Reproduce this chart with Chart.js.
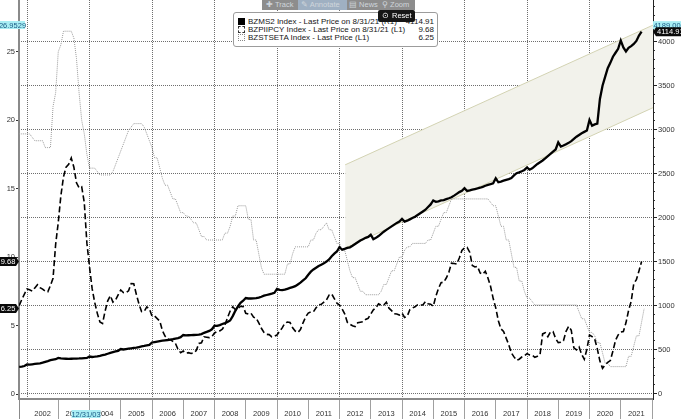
<!DOCTYPE html>
<html>
<head>
<meta charset="utf-8">
<script src="https://cdn.jsdelivr.net/npm/chart.js@4/dist/chart.umd.min.js"></script>
<style>
  html, body { margin: 0; padding: 0; background: #ffffff; }
  #wrap { position: relative; width: 681px; height: 419px; overflow: hidden; background: #fff; }
  #c { position: absolute; left: 0; top: 0; }
  .toolbar { position: absolute; left: 262px; top: 0; width: 153px; height: 10px; background: #8d8d8d;
             font: 7.5px 'Liberation Sans', Arial, sans-serif; color: #cfd6dc; line-height: 10px; white-space: nowrap; }
  .toolbar span { position: absolute; top: 0; height: 10px; }
  .toolbar .ann { background: #9fb0c2; }
  .reset { position: absolute; left: 378px; top: 10px; width: 37px; height: 12px; background: #161616; border-radius: 2px;
           font: 7.5px 'Liberation Sans', Arial, sans-serif; color: #fff; line-height: 12px; white-space: nowrap; }
  .legend { position: absolute; left: 233px; top: 12px; width: 203px; height: 33px; background: #fff;
            border: 1px solid #9c9c9c; border-radius: 3px; font: 8px 'Liberation Sans', Arial, sans-serif; color: #151515; }
  .row { position: absolute; left: 4px; right: 3px; height: 9px; line-height: 9px; white-space: nowrap; }
  .row .ic { position: absolute; left: 0; top: 1px; width: 7px; height: 7px; box-sizing: border-box; }
  .row .tx { position: absolute; left: 10px; top: 0; }
  .row .val { position: absolute; right: 0; top: 0; }
</style>
</head>
<body>
<div id="wrap">
  <canvas id="c" width="681" height="419"></canvas>
  <div class="toolbar">
    <span style="left:4px">✚ Track</span>
    <span class="ann" style="left:36px;width:46px;padding-left:3px">✎ Annotate</span>
    <span style="left:87px">▤ News</span>
    <span style="left:120px">⚲ Zoom</span>
  </div>
  <div class="legend">
    <div class="row" style="top:4px"><span class="ic" style="background:#000"></span><span class="tx" id="lg0"></span><span class="val" id="lv0"></span></div>
    <div class="row" style="top:12px"><span class="ic" style="border:1px dashed #333"></span><span class="tx" id="lg1"></span><span class="val" id="lv1"></span></div>
    <div class="row" style="top:20px"><span class="ic" style="border:1px dotted #888"></span><span class="tx" id="lg2"></span><span class="val" id="lv2"></span></div>
  </div>
  <div class="reset"><span style="position:absolute;left:4px">⊙</span><span style="position:absolute;left:14px">Reset</span></div>
</div>
<script>
// ---------------- data (monthly, first point = end of Sep 2001) ----------------
const startYear = 2001;
const startMonth = 9;

// BZMS2 Index (right axis) - Brazil M2, monthly Sep 2001 .. Aug 2021
const m2Values = [
  303, 306, 312, 330,
  328, 332, 336, 340, 343, 350, 360, 368, 378, 385, 390, 405,
  398, 396, 395, 394, 395, 396, 397, 398, 400, 402, 404, 420,
  415, 418, 422, 428, 435, 442, 452, 462, 470, 478, 485, 505,
  500, 505, 510, 514, 518, 521, 528, 535, 540, 546, 552, 580,
  585, 590, 595, 600, 605, 608, 612, 618, 625, 630, 640, 665,
  660, 662, 664, 665, 666, 668, 675, 690, 700, 712, 730, 770,
  768, 778, 790, 800, 812, 830, 880, 940, 990, 1030, 1055, 1085,
  1080, 1080, 1082, 1085, 1090, 1100, 1112, 1120, 1128, 1135, 1145, 1190,
  1178, 1175, 1180, 1190, 1200, 1210, 1220, 1240, 1260, 1285, 1310, 1350,
  1385, 1410, 1430, 1450, 1465, 1480, 1500, 1525, 1560, 1590, 1615, 1665,
  1635, 1645, 1655, 1662, 1680, 1700, 1720, 1740, 1755, 1770, 1780, 1805,
  1755, 1770, 1790, 1815, 1840, 1860, 1880, 1900, 1920, 1940, 1955, 1985,
  1955, 1965, 1980, 1995, 2010, 2030, 2050, 2070, 2090, 2120, 2150, 2195,
  2180, 2185, 2195, 2200, 2210, 2220, 2232, 2250, 2270, 2290, 2305, 2335,
  2303, 2310, 2318, 2325, 2332, 2340, 2350, 2362, 2372, 2380, 2390, 2447,
  2402, 2410, 2420, 2430, 2438, 2450, 2480, 2505, 2515, 2528, 2542, 2570,
  2545, 2560, 2585, 2610, 2630, 2650, 2675, 2700, 2725, 2750, 2775, 2855,
  2808, 2820, 2835, 2850, 2870, 2895, 2920, 2940, 2960, 2975, 2990, 3110,
  3045, 3060, 3070, 3350, 3500, 3600, 3700, 3760, 3830, 3875, 3920, 4015,
  3935, 3890, 3930, 3950, 3975, 4010, 4070, 4114.91
];

// BZPIIPCY Index (left axis) - IPCA yoy %, monthly Sep 2001 .. Aug 2021
const ipcaValues = [
  6.46, 6.9, 7.3, 7.67,
  7.62, 7.51, 7.75, 7.98, 7.77, 7.66, 7.51, 7.46, 7.93, 8.45, 10.93, 12.53,
  14.47, 15.85, 16.57, 16.77, 17.24, 16.57, 15.43, 15.07, 15.14, 13.98, 11.02, 9.30,
  7.71, 6.69, 5.89, 5.26, 5.15, 6.06, 6.81, 7.18, 6.71, 6.86, 7.24, 7.60,
  7.41, 7.39, 7.54, 8.07, 8.05, 7.27, 6.57, 6.02, 6.04, 6.36, 6.22, 5.69,
  5.70, 5.51, 5.32, 4.63, 4.23, 4.03, 3.97, 3.84, 3.70, 3.26, 3.02, 3.14,
  2.99, 3.02, 2.96, 3.00, 3.18, 3.69, 3.74, 4.18, 4.15, 4.12, 4.19, 4.46,
  4.56, 4.61, 4.73, 5.04, 5.58, 6.06, 6.37, 6.17, 6.25, 6.41, 6.39, 5.90,
  5.84, 5.90, 5.61, 5.53, 5.20, 4.80, 4.50, 4.36, 4.34, 4.17, 4.22, 4.31,
  4.59, 4.83, 5.17, 5.26, 5.22, 4.84, 4.60, 4.49, 4.70, 5.20, 5.63, 5.91,
  5.99, 6.01, 6.30, 6.51, 6.55, 6.71, 6.87, 7.23, 7.31, 6.97, 6.64, 6.50,
  6.22, 5.85, 5.24, 5.10, 4.99, 4.92, 5.20, 5.24, 5.28, 5.45, 5.53, 5.84,
  6.15, 6.31, 6.59, 6.49, 6.50, 6.70, 6.27, 6.09, 5.86, 5.84, 5.77, 5.91,
  5.59, 5.68, 6.15, 6.28, 6.37, 6.52, 6.50, 6.51, 6.75, 6.59, 6.56, 6.41,
  7.14, 7.70, 8.13, 8.17, 8.47, 8.89, 9.56, 9.53, 9.49, 9.93, 10.48, 10.67,
  10.71, 10.36, 9.39, 9.28, 9.32, 8.84, 8.74, 8.97, 8.48, 7.87, 6.99, 6.29,
  5.35, 4.76, 4.57, 4.08, 3.60, 3.00, 2.71, 2.46, 2.54, 2.70, 2.80, 2.95,
  2.86, 2.84, 2.68, 2.76, 2.86, 4.39, 4.48, 4.19, 4.53, 4.56, 4.05, 3.75,
  3.78, 3.89, 4.58, 4.94, 4.66, 3.37, 3.22, 3.43, 2.89, 2.54, 3.27, 4.31,
  4.19, 4.01, 3.30, 2.40, 1.88, 2.13, 2.31, 2.44, 3.14, 3.92, 4.31, 4.52,
  4.56, 5.20, 6.10, 6.76, 8.06, 8.35, 8.99, 9.68
];

// BZSTSETA Index (left axis) - Selic target %, monthly Sep 2001 .. Sep 2021
const selicValues = [
  19, 19, 19, 19,
  19, 18.75, 18.5, 18.5, 18.5, 18.5, 18, 18, 18, 21, 22, 25,
  25.5, 26.5, 26.5, 26.5, 26.5, 26, 24.5, 22, 20, 19, 17.5, 16.5,
  16.5, 16.5, 16.25, 16, 16, 16, 16, 16, 16.25, 16.75, 17.25, 17.75,
  18.25, 18.75, 19.25, 19.5, 19.75, 19.75, 19.75, 19.75, 19.5, 19, 18.5, 18,
  17.25, 17.25, 16.5, 15.75, 15.25, 15.25, 14.75, 14.25, 14.25, 13.75, 13.25, 13.25,
  13, 13, 12.75, 12.5, 12.5, 12, 11.5, 11.5, 11.25, 11.25, 11.25, 11.25,
  11.25, 11.25, 11.25, 11.75, 11.75, 12.25, 13, 13, 13.75, 13.75, 13.75, 13.75,
  12.75, 12.75, 11.25, 11.25, 10.25, 9.25, 8.75, 8.75, 8.75, 8.75, 8.75, 8.75,
  8.75, 8.75, 8.75, 9.5, 9.5, 10.25, 10.75, 10.75, 10.75, 10.75, 10.75, 10.75,
  11.25, 11.25, 11.75, 12, 12, 12.25, 12.5, 12, 12, 11.5, 11, 11,
  10.5, 10.5, 9.75, 9, 8.5, 8.5, 8, 7.5, 7.5, 7.25, 7.25, 7.25,
  7.25, 7.25, 7.25, 7.5, 8, 8, 8.5, 9, 9, 9.5, 10, 10,
  10.5, 10.75, 10.75, 11, 11, 11, 11, 11, 11, 11.25, 11.25, 11.75,
  12.25, 12.25, 12.75, 13.25, 13.25, 13.75, 14.25, 14.25, 14.25, 14.25, 14.25, 14.25,
  14.25, 14.25, 14.25, 14.25, 14.25, 14.25, 14.25, 14.25, 14.25, 14, 13.75, 13.75,
  13, 12.25, 12.25, 11.25, 11.25, 10.25, 9.25, 9.25, 8.25, 8.25, 7.5, 7,
  7, 6.75, 6.5, 6.5, 6.5, 6.5, 6.5, 6.5, 6.5, 6.5, 6.5, 6.5,
  6.5, 6.5, 6.5, 6.5, 6.5, 6.5, 6.5, 6, 5.5, 5.5, 5, 4.5,
  4.5, 4.25, 3.75, 3.75, 3, 2.25, 2.25, 2, 2, 2, 2, 2,
  2, 2, 2.75, 2.75, 3.5, 4.25, 4.25, 5.25, 6.25
];

// Trend channel on the right axis
const channelX = [2012.18, 2022.03];
const channelLow = [1655, 3250];
const channelHigh = [2600, 4189];

// Axis ticks / labels
const yearTicks = [2001.744, 2002, 2003, 2004, 2005, 2006, 2007, 2008, 2009, 2010, 2011, 2012,
                   2013, 2014, 2015, 2016, 2017, 2018, 2019, 2020, 2021, 2022];
const yearLabels = ['2002','2003','2004','2005','2006','2007','2008','2009','2010','2011','2012',
                    '2013','2014','2015','2016','2017','2018','2019','2020','2021'];
const gridYears = [2002, 2004, 2006, 2008, 2010, 2012, 2014, 2016, 2018, 2020];
const leftTicks = [0, 5, 10, 15, 20, 25];
const rightTicks = [0, 500, 1000, 1500, 2000, 2500, 3000, 3500, 4000];

// Legend and markers
const legendNames = ['BZMS2 Index - Last Price on 8/31/21 (R1)',
                     'BZPIIPCY Index - Last Price on 8/31/21 (L1)',
                     'BZSTSETA Index - Last Price (L1)'];
const legendValues = ['4114.91', '9.68', '6.25'];
const leftCrossValue = 26.9529, leftCrossText = '26.9529';
const rightCrossValue = 4189, rightCrossText = '4189.00';
const dateCrossValue = 2004.0, dateCrossText = '12/31/03';
const lastLeft = [{v: 9.68, t: '9.68'}, {v: 6.25, t: '6.25'}];
const lastRight = [{v: 4114.91, t: '4114.91'}];

const X_MIN = 2001.744, X_MAX = 2022.032;

for (let i = 0; i < 3; i++) {
  document.getElementById('lg' + i).textContent = legendNames[i];
  document.getElementById('lv' + i).textContent = legendValues[i];
}

const toPts = vals => vals.map((v, i) => ({ x: startYear + (startMonth + i) / 12, y: v }));

Chart.defaults.font.family = "'Liberation Sans', Arial, sans-serif";
Chart.defaults.font.size = 7.5;
Chart.defaults.color = '#333';

const FONT = "7.5px 'Liberation Sans', Arial, sans-serif";

function cyanBox(ctx, x, y, w, h, text) {
  ctx.save();
  ctx.fillStyle = '#a9eef4';
  ctx.fillRect(x, y - h / 2, w, h);
  ctx.fillStyle = '#1c5c86';
  ctx.font = FONT;
  ctx.textBaseline = 'middle';
  ctx.textAlign = 'center';
  ctx.fillText(text, x + w / 2, y + 0.5);
  ctx.restore();
}
function blackTag(ctx, side, tipX, y, w, text) {
  ctx.save();
  ctx.fillStyle = '#0a0a0a';
  const h = 9;
  ctx.beginPath();
  if (side === 'left') {
    const x0 = tipX - 3 - w;
    ctx.moveTo(x0, y - h / 2); ctx.lineTo(tipX - 3, y - h / 2); ctx.lineTo(tipX, y);
    ctx.lineTo(tipX - 3, y + h / 2); ctx.lineTo(x0, y + h / 2); ctx.closePath();
    ctx.fill();
    ctx.fillStyle = '#fff'; ctx.font = FONT; ctx.textBaseline = 'middle'; ctx.textAlign = 'center';
    ctx.fillText(text, x0 + w / 2, y + 0.5);
  } else {
    const x1 = tipX + 3 + w;
    ctx.moveTo(tipX, y); ctx.lineTo(tipX + 3, y - h / 2); ctx.lineTo(x1, y - h / 2);
    ctx.lineTo(x1, y + h / 2); ctx.lineTo(tipX + 3, y + h / 2); ctx.closePath();
    ctx.fill();
    ctx.fillStyle = '#fff'; ctx.font = FONT; ctx.textBaseline = 'middle'; ctx.textAlign = 'left';
    ctx.fillText(text, tipX + 4, y + 0.5);
  }
  ctx.restore();
}

const markers = {
  id: 'markers',
  afterDraw(chart) {
    const { ctx, scales } = chart;
    const yL = scales.y, yR = scales.y1, x = scales.x;
    cyanBox(ctx, 0, yL.getPixelForValue(leftCrossValue), 25, 8, leftCrossText);
    cyanBox(ctx, 653, yR.getPixelForValue(rightCrossValue), 28, 8, rightCrossText);
    cyanBox(ctx, x.getPixelForValue(dateCrossValue) - 18, 414, 29, 8, dateCrossText);
    lastLeft.forEach(m => blackTag(ctx, 'left', yL.left + yL.width, yL.getPixelForValue(m.v), 16, m.t));
    lastRight.forEach(m => blackTag(ctx, 'right', yR.left, yR.getPixelForValue(m.v), 25, m.t));
  }
};

const minorRight = [];
for (let v = 0; v <= 4400; v += 100) minorRight.push(v);

new Chart(document.getElementById('c'), {
  type: 'line',
  data: {
    datasets: [
      { label: 'BZMS2', data: toPts(m2Values), yAxisID: 'y1', borderColor: '#000', borderWidth: 2.3,
        pointRadius: 0, fill: false, tension: 0 },
      { label: 'BZPIIPCY', data: toPts(ipcaValues), yAxisID: 'y', borderColor: '#000', borderWidth: 1.6,
        borderDash: [6, 3], pointRadius: 0, fill: false, tension: 0 },
      { label: 'BZSTSETA', data: toPts(selicValues), yAxisID: 'y', borderColor: '#9a9a9a', borderWidth: 1,
        borderDash: [1, 1], pointRadius: 0, fill: false, tension: 0 },
      { label: 'chanLow', data: channelX.map((x, i) => ({ x, y: channelLow[i] })), yAxisID: 'y1',
        borderColor: '#d3d3b3', borderWidth: 1, pointRadius: 0, fill: false },
      { label: 'chanHigh', data: channelX.map((x, i) => ({ x, y: channelHigh[i] })), yAxisID: 'y1',
        borderColor: '#d3d3b3', borderWidth: 1, pointRadius: 0, fill: '-1', backgroundColor: '#f2f2eb' }
    ]
  },
  options: {
    responsive: false, animation: false, devicePixelRatio: 1,
    layout: { padding: 0 },
    plugins: { legend: { display: false }, tooltip: { enabled: false } },
    scales: {
      x: {
        type: 'linear', position: 'bottom', min: X_MIN, max: X_MAX, weight: 1,
        afterBuildTicks: s => { s.ticks = yearTicks.map(v => ({ value: v })); },
        afterFit: s => { s.height = 20; s.paddingLeft = 0; s.paddingRight = 0; },
        grid: { drawOnChartArea: false, tickLength: 20, lineWidth: 1,
                color: c => (c.tick && c.tick.value === 2002) ? 'rgba(0,0,0,0)' : (c.tick && c.tick.value < 2002 ? '#8a8a8a' : '#a0a0a0') },
        border: { color: '#8a8a8a', width: 2 },
        ticks: { autoSkip: false, maxRotation: 0, minRotation: 0, labelOffset: 15.6, padding: -9.5, color: '#333',
                 callback: v => { const i = Math.round(v) - 2002; return (Number.isInteger(v) && i >= 0 && i < yearLabels.length) ? yearLabels[i] : ''; } }
      },
      xg: {
        type: 'linear', position: 'bottom', min: X_MIN, max: X_MAX, weight: 0,
        afterBuildTicks: s => { s.ticks = gridYears.map(v => ({ value: v })); },
        afterFit: s => { s.height = 0; s.paddingLeft = 0; s.paddingRight = 0; },
        grid: { drawOnChartArea: true, drawTicks: false, color: '#6e6e6e', lineWidth: 1 },
        border: { display: false, dash: [1, 1] },
        ticks: { display: false }
      },
      y: {
        type: 'linear', position: 'left', min: -0.365, max: 28.78,
        afterBuildTicks: s => { s.ticks = leftTicks.map(v => ({ value: v })); },
        afterFit: s => { s.width = 19; s.paddingTop = 0; s.paddingBottom = 0; },
        grid: { drawOnChartArea: false, tickLength: 3, color: '#333' },
        border: { color: '#8a8a8a', width: 2 },
        ticks: { padding: 1, color: '#333', callback: v => String(v) }
      },
      y1m: {
        type: 'linear', position: 'right', min: -63, max: 4475, weight: 0,
        afterBuildTicks: s => { s.ticks = minorRight.map(v => ({ value: v })); },
        afterFit: s => { s.width = 0; s.paddingTop = 0; s.paddingBottom = 0; },
        grid: { drawOnChartArea: false, tickLength: 2, color: '#333' },
        border: { display: false },
        ticks: { display: false }
      },
      y1: {
        type: 'linear', position: 'right', min: -63, max: 4475, weight: 1,
        afterBuildTicks: s => { s.ticks = rightTicks.map(v => ({ value: v })); },
        afterFit: s => { s.width = 28; s.paddingTop = 0; s.paddingBottom = 0; },
        grid: { drawOnChartArea: true, tickLength: 4, color: '#6e6e6e', tickColor: '#222', tickBorderDash: [] },
        border: { color: '#222', width: 1, dash: [1, 1] },
        ticks: { padding: 1, color: '#333', callback: v => String(v) }
      }
    }
  },
  plugins: [markers]
});
</script>
</body>
</html>
